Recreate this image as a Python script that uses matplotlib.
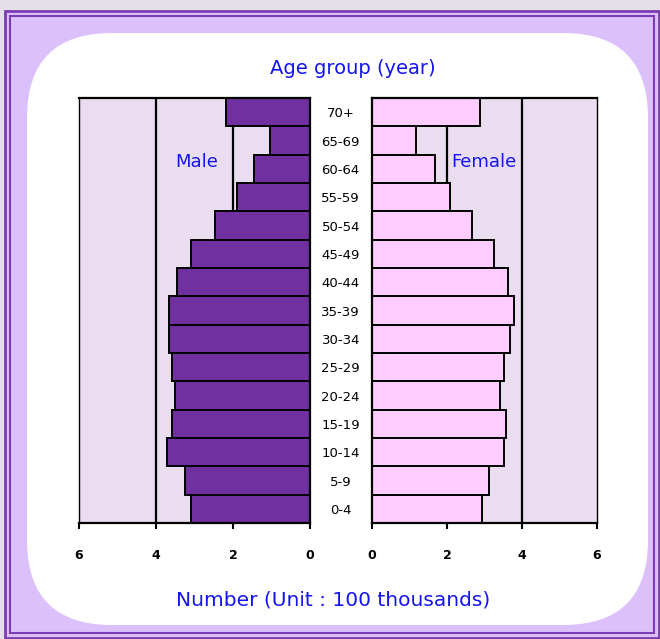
"""
Population pyramid, male / female by age group
"""
import numpy as np
import matplotlib
matplotlib.use('Agg')
import matplotlib.pyplot as plt
from matplotlib.patches import Rectangle, FancyBboxPatch

# -----------------------------------
AGE_GROUPS = ['0-4', '5-9', '10-14', '15-19', '20-24', '25-29', '30-34',
              '35-39', '40-44', '45-49', '50-54', '55-59', '60-64', '65-69', '70+']
MALE = [3.09, 3.25, 3.71, 3.58, 3.50, 3.58, 3.66, 3.66, 3.45, 3.09, 2.47, 1.90, 1.45, 1.04, 2.18]
FEMALE = [2.93, 3.12, 3.52, 3.57, 3.41, 3.52, 3.68, 3.79, 3.63, 3.25, 2.67, 2.08, 1.68, 1.17, 2.88]
X_TICKS = [0, 2, 4, 6]
TITLE = 'Age group (year)'
XLABEL = 'Number (Unit : 100 thousands)'
# -----------------------------------

W, H = 660, 639
BLUE = '#1414f0'
PLOT_BG = '#e9ddef'
MALE_C = '#7030a0'
FEMALE_C = '#ffccff'
FRAME = '#7a3cb0'

fig = plt.figure(figsize=(W / 100, H / 100), dpi=100)
fig.patch.set_facecolor('#e5dfe9')

# // Background frame in pixel coordinates
bg = fig.add_axes([0, 0, 1, 1], zorder=-10)
bg.set_xlim(0, W)
bg.set_ylim(H, 0)
bg.axis('off')
bg.add_patch(Rectangle((5, 11), 654, 627, facecolor='#dcc0fc', edgecolor=FRAME, lw=2))
bg.add_patch(Rectangle((10, 16), 644, 617, facecolor='none', edgecolor=FRAME, lw=1.5))
bg.add_patch(FancyBboxPatch((27 + 85, 33 + 85), 621 - 170, 592 - 170,
                            boxstyle='round,pad=85', facecolor='white', edgecolor='none'))


def px(x0, y0, x1, y1):
    return [x0 / W, 1 - y1 / H, (x1 - x0) / W, (y1 - y0) / H]


ax_m = fig.add_axes(px(79, 98, 310, 523))
ax_f = fig.add_axes(px(372, 98, 597, 523))
y = np.arange(len(AGE_GROUPS))

for ax, vals, col in [(ax_m, MALE, MALE_C), (ax_f, FEMALE, FEMALE_C)]:
    ax.set_facecolor(PLOT_BG)
    for g in X_TICKS[1:-1]:
        ax.axvline(g, color='black', lw=1.6, zorder=1)
    ax.barh(y, vals, height=1.0, color=col, edgecolor='black', lw=1.4, zorder=2)
    ax.set_ylim(-0.5, len(AGE_GROUPS) - 0.5)
    ax.set_xticks(X_TICKS)
    ax.set_xticklabels([str(t) for t in X_TICKS], fontsize=9, fontweight='bold')
    ax.tick_params(axis='x', direction='out', length=4, width=1.5, pad=15)
    for s in ax.spines.values():
        s.set_linewidth(1.6)

ax_m.set_xlim(6, 0)
ax_f.set_xlim(0, 6)
ax_m.set_yticks([])
ax_f.set_yticks(y)
ax_f.set_yticklabels(AGE_GROUPS, fontsize=9.5, ha='center')
ax_f.tick_params(axis='y', length=0, pad=22.5)
ax_m.spines['left'].set_linewidth(1.0)
ax_f.spines['right'].set_linewidth(1.0)

ax_m.text(2.94, 12.24, 'Male', color=BLUE, fontsize=13, ha='center', va='center', zorder=3)
ax_f.text(2.99, 12.24, 'Female', color=BLUE, fontsize=13, ha='center', va='center', zorder=3)

fig.text(353 / W, 1 - 68 / H, TITLE, color=BLUE, fontsize=14, ha='center', va='center')
fig.text(333 / W, 1 - 600 / H, XLABEL, color=BLUE, fontsize=14.5, ha='center', va='center')

fig.savefig('out.png', dpi=100, facecolor=fig.get_facecolor())
